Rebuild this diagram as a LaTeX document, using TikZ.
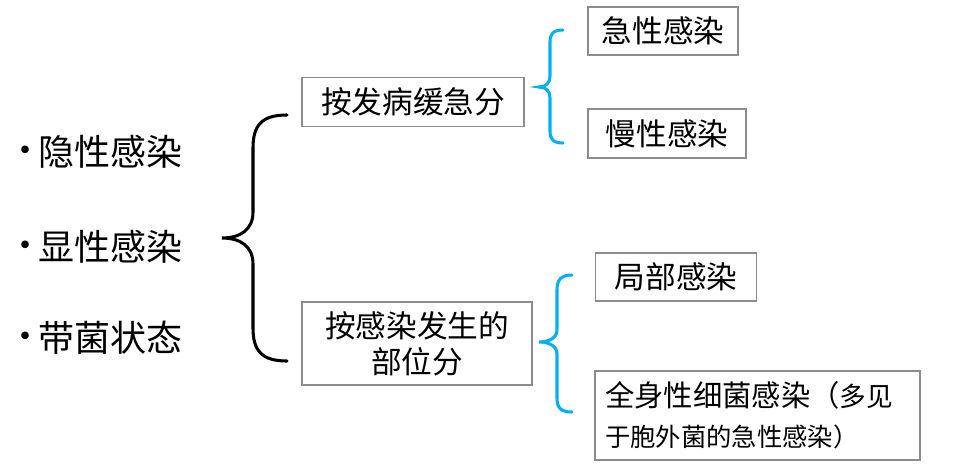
\documentclass[tikz,border=0pt]{standalone}
\usepackage{fontspec}
\usepackage{xcolor}
\usepackage{tikz}
\setmainfont{Noto Sans CJK SC}
\definecolor{bracecyan}{RGB}{0,176,240}
\definecolor{boxgray}{RGB}{140,140,140}
\newcommand{\itemdot}{\makebox[20pt]{\raisebox{0.06em}{•}}}
\tikzset{
  box/.style={draw=boxgray, line width=0.8pt, inner sep=0pt, font=\fontsize{23}{27}\selectfont},
  item/.style={anchor=west, inner sep=0pt, font=\fontsize{27}{32}\selectfont},
  blackbrace/.style={line width=2.3pt, line cap=round},
  cyanbrace/.style={draw=bracecyan, line width=2.3pt, line cap=round}
}

\begin{document}
\begin{tikzpicture}[x=0.75pt, y=-0.75pt]
    \useasboundingbox (0,0) rectangle (961,472);
    % kinds of infection
    \node[item] (latent) at (12,152) {\itemdot 隐性感染};
    \node[item] (overt)  at (12,247) {\itemdot 显性感染};
    \node[item] (carrier) at (12,338) {\itemdot 带菌状态};

    % two ways to classify
    \node[box, minimum width=166.5pt, minimum height=36.75pt] (course) at (413,102) {按发病缓急分};
    \node[box, minimum width=172.5pt, minimum height=62.25pt, align=center] (site) at (417,343.5) {按感染发生的\\部位分};

    \node[box, minimum width=112.5pt, minimum height=36pt] (acute) at (663,31) {急性感染};
    \node[box, minimum width=118.5pt, minimum height=36.75pt] (chronic) at (667,133.5) {慢性感染};
    \node[box, minimum width=120.75pt, minimum height=36pt] (local) at (676,277) {局部感染};
    \node[box, minimum width=243.75pt, minimum height=66.75pt, text width=228.75pt, align=left,
          font=\fontsize{19}{30}\selectfont] (systemic) at (757.5,415.5)
          {{\fontsize{22}{30}\selectfont 全身性细菌感染（}{\fontsize{20}{30}\selectfont 多见}\\于胞外菌的急性感染）};

    % braces
    \draw[blackbrace] (287,115) .. controls (262,115) and (253,125) .. (253,148) -- (253,212)
        .. controls (253,230) and (240,238) .. (222,238)
        .. controls (240,238) and (253,246) .. (253,264) -- (253,328)
        .. controls (253,351) and (262,361) .. (287,361);
    \draw[cyanbrace] (563,30) .. controls (553,30) and (550,34) .. (550,42) -- (550,76)
        .. controls (550,83) and (546,87) .. (539,87)
        .. controls (546,87) and (550,91) .. (550,98) -- (550,131)
        .. controls (550,139) and (553,143) .. (563,143);
    \draw[cyanbrace] (572,275) .. controls (561,275) and (557,280) .. (557,290) -- (557,330)
        .. controls (557,338) and (549,342) .. (539,342)
        .. controls (549,342) and (557,346) .. (557,354) -- (557,398)
        .. controls (557,408) and (561,412) .. (572,412);
\end{tikzpicture}
\end{document}
